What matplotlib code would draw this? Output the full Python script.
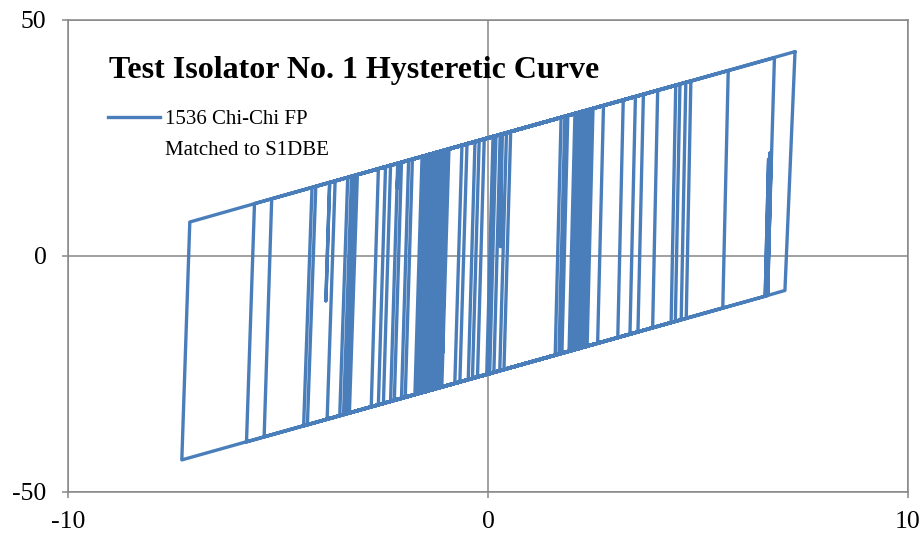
import matplotlib
matplotlib.use("Agg")
import matplotlib.pyplot as plt
from matplotlib.lines import Line2D

plt.rcParams['font.family'] = ['Liberation Serif', 'DejaVu Serif']
plt.rcParams['axes.unicode_minus'] = False

# reversal lines (jump between the two sliding branches): top end / bottom end
top_x = [-7.10, -5.56, -5.15, -4.19, -4.10, -3.64, -3.34, -3.25, -3.18, -3.11,
         -2.61, -2.44, -2.32, -2.15, -2.06, -1.89, -1.80, -1.57, -1.52, -1.47,
         -1.43, -1.38, -1.33, -1.28, -1.24, -1.19, -1.14, -1.09, -1.05, -0.97,
         -0.93, -0.62, -0.50, -0.31, -0.21, -0.09, 0.12, 0.19, 0.29, 0.44,
         0.54, 1.74, 1.83, 1.90, 2.07, 2.12, 2.17, 2.21, 2.26, 2.31,
         2.36, 2.40, 2.45, 2.50, 2.75, 3.22, 3.51, 3.70, 4.04, 4.47,
         4.57, 4.71, 4.83, 5.72, 6.82, 7.31]
top_y = [7.2, 11.1, 12.1, 14.5, 14.75, 15.9, 16.65, 16.9, 17.05, 17.2,
         18.5, 18.9, 19.2, 19.6, 19.85, 20.3, 20.5, 21.1, 21.2, 21.3,
         21.4, 21.55, 21.7, 21.8, 21.9, 22.0, 22.15, 22.3, 22.4, 22.6,
         22.7, 23.45, 23.75, 24.2, 24.5, 24.8, 25.3, 25.5, 25.7, 26.1,
         26.35, 29.35, 29.6, 29.75, 30.2, 30.3, 30.4, 30.5, 30.65, 30.8,
         30.9, 31.0, 31.1, 31.25, 31.9, 33.05, 33.8, 34.25, 35.1, 36.2,
         36.4, 36.8, 37.1, 39.3, 42.0, 43.3]
bot_x = [-7.29, -5.75, -5.33, -4.39, -4.30, -3.83, -3.53, -3.44, -3.37, -3.30,
         -2.78, -2.61, -2.49, -2.32, -2.23, -2.06, -1.97, -1.74, -1.69, -1.64,
         -1.60, -1.55, -1.50, -1.45, -1.41, -1.36, -1.31, -1.26, -1.22, -1.14,
         -1.10, -0.79, -0.67, -0.47, -0.37, -0.25, -0.03, 0.04, 0.14, 0.28,
         0.38, 1.60, 1.69, 1.76, 1.93, 1.98, 2.03, 2.07, 2.12, 2.17,
         2.22, 2.26, 2.31, 2.36, 2.61, 3.09, 3.38, 3.57, 3.92, 4.36,
         4.46, 4.60, 4.72, 5.59, 6.65, 7.07]
bot_y = [-43.2, -39.4, -38.3, -36.0, -35.75, -34.6, -33.8, -33.6, -33.4, -33.25,
         -31.95, -31.5, -31.2, -30.8, -30.6, -30.15, -29.9, -29.35, -29.2, -29.1,
         -29.0, -28.9, -28.75, -28.6, -28.5, -28.4, -28.3, -28.15, -28.05, -27.85,
         -27.75, -27.0, -26.7, -26.2, -25.9, -25.6, -25.1, -24.9, -24.65, -24.3,
         -24.05, -21.0, -20.8, -20.6, -20.2, -20.05, -19.9, -19.8, -19.7, -19.6,
         -19.45, -19.35, -19.2, -19.1, -18.5, -17.3, -16.55, -16.1, -15.2, -14.1,
         -13.85, -13.5, -13.2, -11.0, -8.4, -7.3]

# partial unloading from the upper branch (start on branch, turn point)
dip_x0 = [-3.77, -2.14, -1.00, 0.33]
dip_y0 = [15.6, 19.65, 22.5, 25.8]
dip_x1 = [-3.86, -2.16, -1.08, 0.30]
dip_y1 = [-9.5, 14.4, -20.5, 2.0]

# partial reloading from the lower branch
spk_x0 = [6.66, 6.63, 6.60, 2.11, 1.99]
spk_y0 = [-8.35, -8.4, -8.5, -19.7, -20.0]
spk_x1 = [6.74, 6.71, 6.68, 2.17, 2.05]
spk_y1 = [21.0, 21.8, 20.5, 12.5, 9.7]

# assemble the load path
xs, ys = [], []
n = len(top_x)
for k in range(n // 2):
    d, r = n - 1 - k, k
    xs += [top_x[d], bot_x[d]]
    ys += [top_y[d], bot_y[d]]
    if k == 0:
        for a, b, c, e in zip(spk_x0, spk_y0, spk_x1, spk_y1):
            xs += [a, c, a]
            ys += [b, e, b]
    xs += [bot_x[r], top_x[r]]
    ys += [bot_y[r], top_y[r]]
    if k == 0:
        for a, b, c, e in zip(dip_x0, dip_y0, dip_x1, dip_y1):
            xs += [a, c, a]
            ys += [b, e, b]
# final slide back out to the positive peak
xs.append(top_x[-1])
ys.append(top_y[-1])

fig = plt.figure(figsize=(9.24, 5.4), dpi=100)
ax = fig.add_axes([68 / 924, 1 - 492 / 540, 840 / 924, 472 / 540])
ax.set_xlim(-10, 10)
ax.set_ylim(-50, 50)
ax.set_xticks([-10, 0, 10])
ax.set_yticks([-50, 0, 50])

grey = '#868686'
ax.grid(True, color=grey, lw=1.1)
ax.set_axisbelow(True)
for s in ax.spines.values():
    s.set_color(grey)
    s.set_linewidth(1.1)
ax.tick_params(direction='out', length=4.5, width=1.1, color=grey, labelsize=18.5)
ax.tick_params(axis='y', pad=11)
ax.tick_params(axis='x', pad=9)

blue = '#4A7EBB'
ax.plot(xs, ys, color=blue, lw=2.4, solid_joinstyle='round', solid_capstyle='round')

fig.text(109 / 924, 1 - 78 / 540, 'Test Isolator No. 1 Hysteretic Curve',
         fontsize=23, fontweight='bold', ha='left', va='baseline')
fig.add_artist(Line2D([108 / 924, 160 / 924], [1 - 117 / 540] * 2,
                      color=blue, lw=2.4, transform=fig.transFigure))
fig.text(165 / 924, 1 - 124 / 540, '1536 Chi-Chi FP', fontsize=15,
         ha='left', va='baseline')
fig.text(165 / 924, 1 - 155 / 540, 'Matched to S1DBE', fontsize=15,
         ha='left', va='baseline')

fig.savefig('out.png', dpi=100)
